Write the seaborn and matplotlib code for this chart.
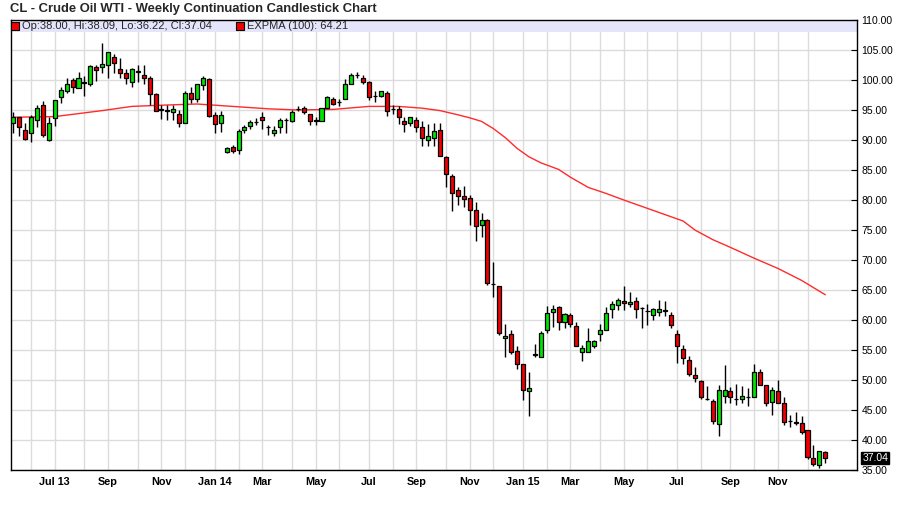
import numpy as np
import pandas as pd
import matplotlib
matplotlib.use('Agg')
import matplotlib.pyplot as plt
import matplotlib.transforms as mtransforms
import seaborn as sns

# weekly candles, first week starts Monday 2013-05-13
first_week = "2013-05-13"

opens = [92.8, 93.8, 91.7, 91.1, 93.4, 95.8, 90.0, 93.6, 97.1, 98.1,
         100.0, 98.6, 99.6, 99.3, 102.1, 102.2, 102.5, 103.8, 101.9, 101.1,
         99.6, 101.5, 100.8, 100.3, 97.7, 95.1, 95.0, 94.7, 94.4, 92.9,
         97.9, 96.8, 99.2, 100.1, 94.1, 92.8, 88.0, 88.8, 88.4, 91.6,
         92.3, 93.0, 93.8, 92.2, 91.1, 92.1, 93.4, 93.1, 95.2, 95.4,
         94.3, 93.4, 93.2, 95.4, 96.8, 96.4, 96.8, 99.4, 100.8, 100.3,
         99.6, 97.4, 97.3, 97.9, 95.1, 95.1, 93.2, 92.8, 93.4, 92.1,
         90.0, 90.4, 91.7, 87.2, 84.0, 81.7, 80.7, 80.3, 78.4, 75.9,
         76.7, 66.0, 65.7, 57.0, 57.7, 54.9, 52.7, 48.2, 54.2, 53.9,
         58.3, 61.4, 62.1, 59.7, 60.8, 59.0, 54.6, 54.6, 55.7, 57.6,
         58.4, 61.8, 62.5, 63.2, 62.6, 63.1, 62.0, 61.5, 60.8, 61.3,
         61.6, 60.8, 57.7, 55.1, 53.4, 50.8, 49.8, 46.9, 46.5, 42.6,
         47.4, 48.1, 46.8, 46.9, 47.1, 47.1, 51.3, 49.2, 46.4, 48.2,
         46.2, 43.2, 43.0, 42.9, 41.7, 37.0, 35.8, 38.00]
highs = [94.6, 93.9, 92.9, 94.1, 95.8, 96.5, 93.9, 96.7, 98.9, 100.4,
         100.4, 101.4, 100.7, 102.5, 102.5, 106.1, 104.6, 104.3, 103.6, 101.9,
         102.0, 102.5, 102.5, 100.7, 97.9, 95.8, 95.8, 95.8, 95.0, 98.1,
         98.9, 99.3, 100.7, 100.4, 94.6, 94.9, 88.9, 89.2, 91.8, 92.5,
         93.3, 93.6, 94.6, 92.5, 92.3, 93.6, 93.6, 95.0, 95.6, 95.7,
         94.3, 93.9, 95.3, 97.3, 97.2, 96.9, 100.2, 101.1, 101.4, 100.8,
         99.9, 98.1, 98.2, 98.1, 95.8, 95.7, 93.9, 93.9, 93.9, 93.1,
         92.7, 92.8, 92.9, 87.4, 84.3, 82.1, 82.3, 80.8, 79.7, 77.9,
         76.9, 69.7, 65.7, 59.3, 58.4, 55.7, 52.7, 51.4, 56.0, 58.1,
         62.3, 62.5, 62.3, 61.2, 61.1, 59.7, 55.8, 58.6, 56.7, 59.4,
         62.2, 63.1, 63.6, 65.6, 64.6, 63.9, 62.1, 62.7, 62.0, 63.3,
         63.1, 61.4, 58.4, 55.9, 54.0, 52.1, 50.0, 49.0, 46.9, 49.2,
         52.5, 48.9, 49.4, 49.0, 48.6, 52.7, 51.8, 49.2, 48.9, 50.0,
         47.1, 44.2, 44.7, 44.0, 41.7, 39.2, 38.2, 38.09]
lows = [91.2, 90.6, 90.0, 89.7, 92.1, 90.5, 89.9, 92.4, 96.1, 97.8,
        97.9, 98.6, 97.4, 99.0, 99.9, 101.2, 100.4, 101.1, 100.3, 99.4,
        98.9, 99.7, 99.4, 95.8, 94.8, 93.5, 93.3, 93.3, 92.1, 92.9,
        96.2, 96.4, 98.4, 93.8, 91.1, 91.4, 87.8, 87.9, 87.7, 91.1,
        91.9, 92.5, 91.9, 90.8, 90.6, 91.1, 91.2, 93.0, 94.9, 94.3,
        92.5, 92.5, 93.2, 95.4, 95.8, 95.7, 96.8, 99.4, 100.3, 99.3,
        96.6, 96.4, 97.1, 94.0, 94.4, 92.7, 91.4, 92.4, 91.4, 89.0,
        89.0, 89.0, 87.3, 82.1, 78.1, 79.2, 78.9, 75.8, 73.1, 73.9,
        65.8, 63.8, 57.5, 53.9, 54.3, 51.8, 46.7, 44.0, 53.8, 53.9,
        57.8, 58.9, 58.3, 58.6, 58.9, 55.7, 53.1, 54.6, 55.3, 56.5,
        58.4, 60.3, 61.7, 61.6, 62.1, 60.4, 58.6, 59.2, 60.0, 60.7,
        60.6, 58.7, 52.8, 52.7, 50.6, 49.7, 46.9, 46.6, 42.7, 40.6,
        46.1, 46.1, 45.8, 46.1, 45.6, 47.1, 49.1, 45.7, 44.2, 46.2,
        42.5, 42.1, 42.5, 41.0, 36.8, 35.7, 35.3, 36.22]
closes = [93.8, 92.1, 90.2, 93.8, 95.4, 90.8, 92.9, 96.6, 98.4, 99.4,
          98.8, 100.3, 99.5, 102.3, 101.6, 102.6, 104.6, 102.9, 101.2, 100.4,
          101.8, 101.4, 100.4, 97.7, 94.9, 95.0, 94.9, 95.2, 92.9, 97.8,
          96.9, 99.3, 100.3, 94.0, 92.7, 94.2, 88.6, 88.2, 91.5, 92.1,
          93.0, 93.0, 93.3, 92.2, 91.7, 93.3, 93.4, 94.7, 95.2, 94.6,
          93.2, 93.1, 95.3, 97.1, 96.0, 96.4, 99.3, 100.9, 100.8, 99.7,
          97.2, 97.4, 98.1, 94.9, 95.1, 93.8, 92.7, 93.8, 92.1, 90.3,
          90.7, 91.5, 87.3, 84.4, 81.1, 80.6, 80.2, 78.3, 75.7, 76.7,
          66.2, 66.0, 57.9, 57.4, 54.6, 52.7, 48.3, 48.7, 54.4, 57.9,
          61.1, 61.9, 59.6, 61.0, 59.3, 55.7, 55.4, 56.5, 56.5, 58.4,
          61.1, 62.7, 63.4, 62.8, 63.0, 61.8, 62.0, 61.5, 61.8, 61.8,
          61.5, 59.1, 55.6, 53.6, 51.0, 50.3, 47.2, 46.9, 43.2, 48.4,
          48.4, 47.1, 46.8, 47.4, 47.1, 51.3, 49.1, 46.1, 48.3, 46.2,
          43.0, 43.2, 42.9, 41.3, 37.1, 36.0, 38.2, 37.04]

# EXPMA(100) at some weeks
ema_week = [0, 7, 11, 15, 20, 25, 31, 37, 43, 48, 54, 60, 65, 69, 72, 75, 77,
            79, 81, 83, 85, 87, 89, 92, 94, 97, 100, 103, 107, 111, 113, 115,
            118, 121, 125, 129, 133, 137]
ema_value = [93.8, 93.9, 94.4, 94.9, 95.6, 95.8, 96.0, 95.6, 95.2, 95.0, 95.1,
             95.6, 95.6, 95.3, 94.9, 94.2, 93.7, 93.1, 91.9, 90.4, 88.6, 87.2,
             86.2, 85.1, 83.8, 82.1, 81.1, 80.0, 78.6, 77.2, 76.5, 75.0, 73.4,
             72.1, 70.3, 68.6, 66.6, 64.21]

month_labels = ["Jul 13", "Sep", "Nov", "Jan 14", "Mar", "May", "Jul", "Sep",
                "Nov", "Jan 15", "Mar", "May", "Jul", "Sep", "Nov"]
price_ticks = list(range(35, 111, 5))

title = "CL - Crude Oil WTI - Weekly Continuation Candlestick Chart"

sns.set_style("white")
plt.rcParams['font.family'] = ['Liberation Sans', 'DejaVu Sans']

df = pd.DataFrame({
    'week': pd.date_range(first_week, periods=len(closes), freq='W-MON'),
    'open': opens, 'high': highs, 'low': lows, 'close': closes,
})
df['pos'] = np.arange(len(df))

# a gridline at the first candle of every month (skip the partial first month)
month_first = df.groupby(df['week'].dt.to_period('M'))['pos'].min().iloc[1:]
tick_pos = list(month_first.values)
tick_txt = []
k = 0
for per in month_first.index:
    if per.month % 2 == 1:
        tick_txt.append(month_labels[k])
        k += 1
    else:
        tick_txt.append("")

RED = '#f00000'
GREEN = '#00e400'

fig = plt.figure(figsize=(9, 5.11), dpi=100)
ax = fig.add_axes([10.7 / 900, 41 / 511, 846.6 / 900, 450 / 511])

ax.set_xlim(-0.44, 142.4)
ax.set_ylim(35, 110)

# grid
ax.set_xticks(tick_pos)
ax.set_xticklabels(tick_txt, fontweight='bold', fontsize=7.8)
ax.set_yticks(price_ticks)
ax.set_yticklabels([f"{v:.2f}" for v in price_ticks], fontsize=7.5)
ax.grid(True, color='#dcdcdc', linewidth=1)
ax.set_axisbelow(True)

# legend band on top of the plot area
ax.axhspan(108, 110, color='#e4e4fa', zorder=1.5, linewidth=0)

# EMA line
sns.lineplot(x=ema_week, y=ema_value, ax=ax, color='#ff2b2b', linewidth=1.0,
             zorder=2)

# candles
body_col = [GREEN if c > o else RED for o, c in zip(df['open'], df['close'])]
ax.vlines(df['pos'], df['low'], df['high'], color='black', linewidth=1,
          zorder=3)
ax.bar(df['pos'], df['close'] - df['open'], bottom=df['open'], width=0.68,
       color=body_col, edgecolor='black', linewidth=0.9, zorder=4)

# axes frame and ticks
for sp in ax.spines.values():
    sp.set_visible(True)
    sp.set_color('black')
    sp.set_linewidth(1)
ax.yaxis.tick_right()
ax.tick_params(axis='y', direction='in', length=4, pad=3, colors='black',
               right=True, left=False)
ax.tick_params(axis='x', length=0, pad=5, colors='black')
ax.set_xlabel("")
ax.set_ylabel("")

# last close marker on the price axis
last = df['close'].iloc[-1]
trans = mtransforms.blended_transform_factory(ax.transAxes, ax.transData)
ax.text(1.0 + 5 / 846.6, last, f"{last:.2f}", transform=trans, fontsize=7.5,
        color='white', va='center', ha='left', zorder=6,
        bbox=dict(boxstyle='square,pad=0.12', fc='black', ec='black'))

# title and legend text
fig.text(10 / 900, 1 - 9 / 511, title, fontsize=9.4, fontweight='bold',
         va='center', ha='left')
band_y = 1 - 26 / 511
leg = f"Op:{opens[-1]:.2f}, Hi:{highs[-1]:.2f}, Lo:{lows[-1]:.2f}, Cl:{closes[-1]:.2f}"
fig.text(21.5 / 900, band_y, leg, fontsize=8, va='center', ha='left')
fig.text(247 / 900, band_y, f"EXPMA (100): {ema_value[-1]:.2f}", fontsize=8,
         va='center', ha='left')
for xs in (14.5, 239.5):
    ax.plot([xs / 900], [band_y], marker='s', markersize=5.5,
            markerfacecolor=RED, markeredgecolor='black', markeredgewidth=0.8,
            transform=fig.transFigure, clip_on=False, zorder=7)

fig.savefig("out.png", dpi=100)
plt.close(fig)
